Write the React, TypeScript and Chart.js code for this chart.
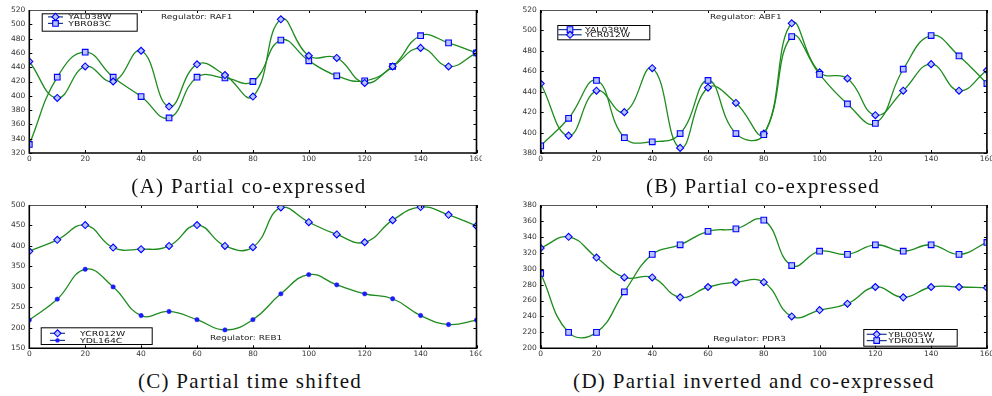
import React, { useEffect, useRef } from "react";
import { Chart, registerables } from "chart.js";

Chart.register(...registerables);

// ---------- data ----------
const timePoints = [0, 10, 20, 30, 40, 50, 60, 70, 80, 90, 100, 110, 120, 130, 140, 150, 160];
const xTicks = [0, 20, 40, 60, 80, 100, 120, 140, 160];

// Panel A  (Regulator: RAF1)
const aName1 = "YAL038W";
const aValues1 = [448, 397, 441, 420, 463, 385, 444, 429, 399, 507, 456, 453, 418, 441, 467, 441, 460];
const aName2 = "YBR083C";
const aValues2 = [332, 426, 461, 426, 399, 369, 426, 425, 420, 478, 449, 428, 421, 441, 484, 474, 460];
const aYTicks = [320, 340, 360, 380, 400, 420, 440, 460, 480, 500, 520];

// Panel B  (Regulator: ABF1)
const bName1 = "YAL038W";
const bValues1 = [387, 414, 451, 395, 391, 399, 451, 399, 398, 494, 457, 428, 409, 462, 495, 475, 448];
const bName2 = "YCR012W";
const bValues2 = [448, 397, 441, 420, 463, 385, 444, 429, 399, 507, 459, 453, 417, 441, 467, 441, 461];
const bYTicks = [380, 400, 420, 440, 460, 480, 500, 520];

// Panel C  (Regulator: REB1)
const cName1 = "YCR012W";
const cValues1 = [387, 415, 451, 396, 392, 400, 451, 400, 397, 494, 458, 428, 409, 463, 495, 476, 449];
const cName2 = "YDL164C";
const cValues2 = [219, 270, 343, 300, 230, 240, 220, 195, 220, 283, 330, 305, 283, 271, 230, 208, 219];
const cYTicks = [150, 200, 250, 300, 350, 400, 450, 500];

// Panel D  (Regulator: PDR3)
const dName1 = "YBL005W";
const dValues1 = [326, 340, 314, 289, 289, 264, 277, 283, 283, 240, 248, 256, 277, 264, 277, 277, 276];
const dName2 = "YDR011W";
const dValues2 = [294, 220, 220, 271, 318, 330, 347, 350, 361, 304, 322, 318, 330, 322, 330, 318, 333];
const dYTicks = [200, 220, 240, 260, 280, 300, 320, 340, 360, 380];

// ---------- styling ----------
const LINE_COLOR = "#1e8c1e";
const MARK_EDGE = "#0000ff";
const MARK_FILL = "#b9c3ff";
const TICK_FONT = "DejaVu Sans";

type Marker = "diamond" | "square" | "dot";
type Series = { name: string; values: number[]; marker: Marker };
type PanelSpec = {
  left: number;
  top: number;
  width: number;
  height: number;
  area: { l: number; t: number; r: number; b: number };
  yTicks: number[];
  series: Series[];
  legend: { x: number; y: number; w: number; h: number; rows: number[]; lx1: number; lx2: number; tx: number };
  regulator: { text: string; x: number; y: number };
};

const panels: PanelSpec[] = [
  {
    left: 0, top: 0, width: 482, height: 168,
    area: { l: 29.3, t: 10, r: 476.5, b: 153 },
    yTicks: aYTicks,
    series: [
      { name: aName1, values: aValues1, marker: "diamond" },
      { name: aName2, values: aValues2, marker: "square" },
    ],
    legend: { x: 41.7, y: 13.3, w: 95, h: 17.4, rows: [16.9, 23.4], lx1: 48, lx2: 63, tx: 68.3 },
    regulator: { text: "Regulator: RAF1", x: 161, y: 16.7 },
  },
  {
    left: 511, top: 0, width: 481, height: 168,
    area: { l: 29.7, t: 10, r: 477, b: 153 },
    yTicks: bYTicks,
    series: [
      { name: bName1, values: bValues1, marker: "square" },
      { name: bName2, values: bValues2, marker: "diamond" },
    ],
    legend: { x: 46.3, y: 25, w: 92, h: 14.3, rows: [29.6, 34.8], lx1: 47.3, lx2: 70.7, tx: 74 },
    regulator: { text: "Regulator: ABF1", x: 199, y: 16.7 },
  },
  {
    left: 0, top: 195, width: 482, height: 168,
    area: { l: 29.3, t: 10, r: 476.5, b: 153.3 },
    yTicks: cYTicks,
    series: [
      { name: cName1, values: cValues1, marker: "diamond" },
      { name: cName2, values: cValues2, marker: "dot" },
    ],
    legend: { x: 40.7, y: 132.3, w: 111, h: 16.7, rows: [138.3, 145.4], lx1: 50, lx2: 65, tx: 80 },
    regulator: { text: "Regulator: REB1", x: 210, y: 143.3 },
  },
  {
    left: 511, top: 195, width: 481, height: 168,
    area: { l: 29.7, t: 10, r: 477, b: 153.3 },
    yTicks: dYTicks,
    series: [
      { name: dName1, values: dValues1, marker: "diamond" },
      { name: dName2, values: dValues2, marker: "square" },
    ],
    legend: { x: 352.3, y: 134, w: 93.4, h: 16.7, rows: [139.3, 145.6], lx1: 355.7, lx2: 375.7, tx: 377.3 },
    regulator: { text: "Regulator: PDR3", x: 202.3, y: 144.3 },
  },
];

const captions = [
  { text: "(A) Partial co-expressed", cx: 249, top: 175.5 },
  { text: "(B) Partial co-expressed", cx: 763, top: 175.5 },
  { text: "(C) Partial time shifted", cx: 250, top: 370.5 },
  { text: "(D) Partial inverted and co-expressed", cx: 754, top: 370.5 },
];

function drawMarker(ctx: CanvasRenderingContext2D, m: Marker, x: number, y: number) {
  ctx.beginPath();
  if (m === "diamond") {
    const r = 3.5;
    ctx.moveTo(x - r, y);
    ctx.lineTo(x, y - r);
    ctx.lineTo(x + r, y);
    ctx.lineTo(x, y + r);
    ctx.closePath();
    ctx.fillStyle = MARK_FILL;
    ctx.fill();
    ctx.strokeStyle = MARK_EDGE;
    ctx.lineWidth = 1.1;
    ctx.stroke();
  } else if (m === "square") {
    const s = 2.8;
    ctx.rect(x - s, y - s, 2 * s, 2 * s);
    ctx.fillStyle = MARK_FILL;
    ctx.fill();
    ctx.strokeStyle = MARK_EDGE;
    ctx.lineWidth = 1.1;
    ctx.stroke();
  } else {
    ctx.arc(x, y, 2.2, 0, Math.PI * 2);
    ctx.fillStyle = "#1a1aff";
    ctx.fill();
  }
}

function stretchedText(ctx: CanvasRenderingContext2D, text: string, x: number, y: number, sx: number) {
  ctx.save();
  ctx.translate(x, y);
  ctx.scale(sx, 1);
  ctx.fillText(text, 0, 0);
  ctx.restore();
}

function Panel({ spec }: { spec: PanelSpec }) {
  const ref = useRef<HTMLCanvasElement | null>(null);
  useEffect(() => {
    if (!ref.current) return;
    const s = spec;
    const framePlugin = {
      id: "frameAndLegend",
      afterDraw(chart: any) {
        const ctx: CanvasRenderingContext2D = chart.ctx;
        const ca = chart.chartArea;
        const xs = chart.scales.x;
        const ys = chart.scales.y;
        ctx.save();
        // inward ticks
        ctx.strokeStyle = "#000";
        ctx.lineWidth = 1;
        ctx.beginPath();
        xTicks.forEach((v) => {
          const px = Math.round(xs.getPixelForValue(v)) + 0.5;
          ctx.moveTo(px, ca.bottom);
          ctx.lineTo(px, ca.bottom - 3);
          ctx.moveTo(px, ca.top);
          ctx.lineTo(px, ca.top + 3);
        });
        s.yTicks.forEach((v) => {
          const py = Math.round(ys.getPixelForValue(v)) + 0.5;
          ctx.moveTo(ca.left, py);
          ctx.lineTo(ca.left + 3, py);
          ctx.moveTo(ca.right, py);
          ctx.lineTo(ca.right - 3, py);
        });
        ctx.stroke();
        // box
        ctx.lineWidth = 1;
        ctx.strokeStyle = "#555";
        ctx.beginPath();
        ctx.moveTo(ca.left, ca.top + 0.5);
        ctx.lineTo(ca.right, ca.top + 0.5);
        ctx.stroke();
        ctx.lineWidth = 1.6;
        ctx.strokeStyle = "#000";
        ctx.beginPath();
        ctx.moveTo(ca.left, ca.top);
        ctx.lineTo(ca.left, ca.bottom);
        ctx.lineTo(ca.right, ca.bottom);
        ctx.lineTo(ca.right, ca.top);
        ctx.stroke();

        // legend
        const L = s.legend;
        ctx.fillStyle = "#fff";
        ctx.fillRect(L.x, L.y, L.w, L.h);
        ctx.lineWidth = 1;
        ctx.strokeStyle = "#000";
        ctx.strokeRect(L.x + 0.5, L.y + 0.5, L.w, L.h);
        ctx.font = `7px "${TICK_FONT}"`;
        ctx.textBaseline = "middle";
        ctx.textAlign = "left";
        s.series.forEach((ser, i) => {
          const ry = L.rows[i];
          ctx.strokeStyle = "#1a3a8a";
          ctx.lineWidth = 1.2;
          ctx.beginPath();
          ctx.moveTo(L.lx1, ry);
          ctx.lineTo(L.lx2, ry);
          ctx.stroke();
          drawMarker(ctx, ser.marker, (L.lx1 + L.lx2) / 2, ry);
          ctx.fillStyle = "#111";
          stretchedText(ctx, ser.name, L.tx, ry + 0.5, 1.33);
        });
        // regulator
        ctx.fillStyle = "#222";
        stretchedText(ctx, s.regulator.text, s.regulator.x, s.regulator.y, 1.27);
        ctx.restore();
      },
    };

    const datasets = s.series.map((ser) => ({
      label: ser.name,
      data: timePoints.map((t, i) => ({ x: t, y: ser.values[i] })),
      borderColor: LINE_COLOR,
      borderWidth: 1.3,
      tension: 0.45,
      fill: false,
      pointStyle: ser.marker === "diamond" ? "rectRot" : ser.marker === "square" ? "rect" : "circle",
      pointRadius: ser.marker === "diamond" ? 3.5 : ser.marker === "square" ? 4 : 2.2,
      pointBackgroundColor: ser.marker === "dot" ? "#1a1aff" : MARK_FILL,
      pointBorderColor: ser.marker === "dot" ? "#1a1aff" : MARK_EDGE,
      pointBorderWidth: ser.marker === "dot" ? 0.5 : 1.1,
    }));

    const zeroPad = (sc: any) => {
      sc.paddingLeft = 0;
      sc.paddingRight = 0;
      sc.paddingTop = 0;
      sc.paddingBottom = 0;
    };

    const chart = new Chart(ref.current, {
      type: "line",
      data: { datasets },
      options: {
        animation: false,
        responsive: false,
        devicePixelRatio: 1,
        layout: {
          padding: { left: 0, top: s.area.t, right: s.width - s.area.r, bottom: 0 },
        },
        plugins: { legend: { display: false }, tooltip: { enabled: false } },
        scales: {
          x: {
            type: "linear",
            min: 0,
            max: 160,
            afterBuildTicks: (sc: any) => {
              sc.ticks = xTicks.map((v) => ({ value: v }));
            },
            afterFit: (sc: any) => {
              sc.height = s.height - s.area.b;
              zeroPad(sc);
            },
            grid: { display: false, drawTicks: false },
            border: { display: false },
            ticks: {
              autoSkip: false,
              maxRotation: 0,
              padding: 1.5,
              color: "#333",
              font: { family: TICK_FONT, size: 7.5 },
            },
          },
          y: {
            type: "linear",
            min: s.yTicks[0],
            max: s.yTicks[s.yTicks.length - 1],
            afterBuildTicks: (sc: any) => {
              sc.ticks = s.yTicks.map((v) => ({ value: v }));
            },
            afterFit: (sc: any) => {
              sc.width = s.area.l;
              zeroPad(sc);
            },
            grid: { display: false, drawTicks: false },
            border: { display: false },
            ticks: {
              autoSkip: false,
              padding: 4,
              color: "#333",
              font: { family: TICK_FONT, size: 7.5 },
            },
          },
        },
      },
      plugins: [framePlugin],
    } as any);
    return () => chart.destroy();
  }, [spec]);

  return (
    <canvas
      ref={ref}
      width={spec.width}
      height={spec.height}
      style={{
        position: "absolute",
        left: spec.left,
        top: spec.top,
        width: spec.width,
        height: spec.height,
      }}
    />
  );
}

export default function App() {
  return (
    <div
      style={{
        position: "fixed",
        left: 0,
        top: 0,
        width: 992,
        height: 396,
        background: "#fff",
        overflow: "hidden",
      }}
    >
      {panels.map((p, i) => (
        <Panel key={i} spec={p} />
      ))}
      {captions.map((c, i) => (
        <div
          key={"c" + i}
          style={{
            position: "absolute",
            left: c.cx - 250,
            top: c.top,
            width: 500,
            textAlign: "center",
            fontFamily: '"Liberation Serif", serif',
            fontSize: 21,
            lineHeight: "21px",
            letterSpacing: "1.3px",
            color: "#111",
            whiteSpace: "nowrap",
          }}
        >
          {c.text}
        </div>
      ))}
    </div>
  );
}
